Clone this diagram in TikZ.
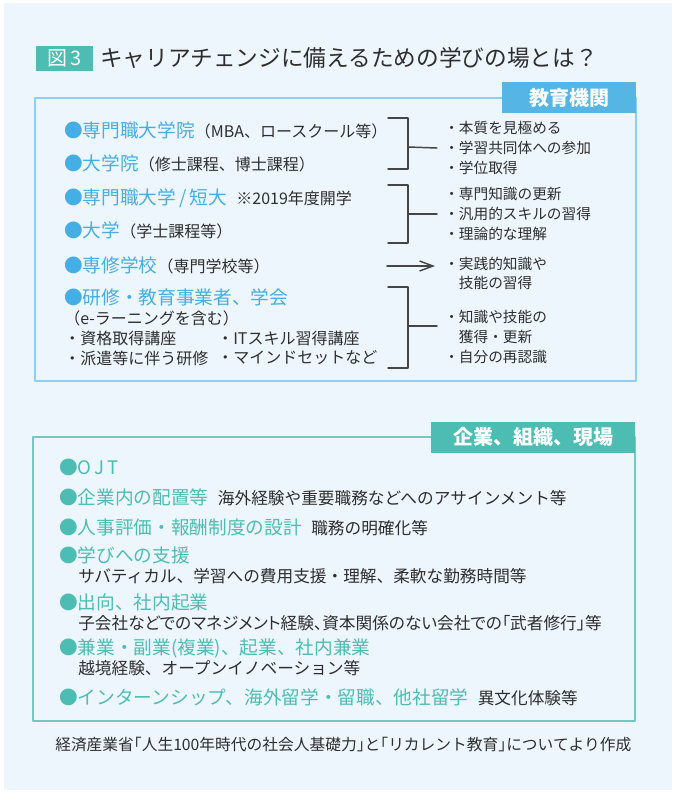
\documentclass[tikz,border=0pt]{standalone}
\usepackage{fontspec}
\usetikzlibrary{arrows.meta}
\newfontfamily\jp{Noto Sans CJK JP}
\newfontfamily\jpprop[RawFeature=+palt]{Noto Sans CJK JP}
\definecolor{panel}{HTML}{EEF6FD}
\definecolor{sky}{HTML}{45AEE4}
\definecolor{skyline}{HTML}{8CCFF0}
\definecolor{skytab}{HTML}{55B5E5}
\definecolor{mint}{HTML}{4DBDB4}
\definecolor{mintline}{HTML}{72C9C1}
\definecolor{ink}{HTML}{2E2E2E}
\definecolor{brack}{HTML}{454545}
\newcommand\edu[1]{{\color{sky}\fontsize{14}{16}\selectfont#1}}
\newcommand\biz[1]{{\color{mint}\fontsize{14}{16}\selectfont#1}}
\newcommand\aside[1]{{\fontsize{12}{14}\selectfont#1}}
\newcommand\remark[1]{{\fontsize{12.5}{15}\selectfont#1}}

\begin{document}
\begin{tikzpicture}[x=0.75pt,y=-0.75pt,line cap=round,line join=round,
    every node/.style={inner sep=0pt,text=ink},
    item/.style={anchor=west,font=\jp},
    res/.style={anchor=west,align=left,font=\jp\fontsize{11}{14.8}\selectfont},
    tab/.style={text=white,font=\jp\bfseries\fontsize{15}{17}\selectfont,
      minimum height=23.25pt},
    brk/.style={draw=brack,line width=1.1pt}]
  \useasboundingbox (0,0) rectangle (677,793);
  \fill[white] (0,0) rectangle (677,793);
  \fill[panel] (4,3) rectangle (672,790);

  % title
  \node[fill=mint,text=white,font=\jp\fontsize{15}{17}\selectfont,
    minimum width=42.75pt,minimum height=18.75pt] (fig) at (64.5,58.5) {図\,3};
  \node[item,font=\jp\fontsize{17}{20}\selectfont] (title) at (100,58)
    {キャリアチェンジに備えるための学びの場とは？};

  % schools
  \draw[skyline,line width=1.5pt] (35,97.5) rectangle (636,381);
  \node[tab,fill=skytab,minimum width=100.5pt] (school) at (569,97.5) {教育機関};

  \node[item] (grad) at (64,130) {\edu{●専門職大学院}\aside{（MBA、ロースクール等）}};
  \node[item] (master) at (64,163) {\edu{●大学院}\aside{（修士課程、博士課程）}};
  \node[item] (prof) at (64,198) {\edu{●専門職大学\,/\,短大}\hspace{7pt}\aside{※2019年度開学}};
  \node[item] (univ) at (64,230) {\edu{●大学}\aside{（学士課程等）}};
  \node[item] (voc) at (64,265) {\edu{●専修学校}\aside{（専門学校等）}};
  \node[item] (train) at (64,297) {\edu{●研修・教育事業者、学会}};
  \node[item] (elearn) at (64,318) {\aside{（e-ラーニングを含む）}};
  \node[item] (qual) at (64,338) {\aside{・資格取得講座}};
  \node[item] (itsk) at (217,338) {\aside{・ITスキル習得講座}};
  \node[item] (dispatch) at (64,358) {\aside{・派遣等に伴う研修}};
  \node[item] (mind) at (217,358) {\aside{・マインドセットなど}};

  \node[res] (gain1) at (444,148) {・本質を見極める\\・学習共同体への参加\\・学位取得};
  \node[res] (gain2) at (444,214) {・専門知識の更新\\・汎用的スキルの習得\\・理論的な理解};
  \node[res] (gain3) at (444,273.5) {・実践的知識や\\　技能の習得};
  \node[res] (gain4) at (444,337) {・知識や技能の\\　獲得・更新\\・自分の再認識};

  \draw[brk] (388,118) -- (408,118) -- (408,169) -- (388,169);
  \draw[brk] (408,147) -- ([xshift=-5.25pt]gain1.west);
  \draw[brk] (388,185) -- (408,185) -- (408,243) -- (388,243);
  \draw[brk] (408,214) -- ([xshift=-5.25pt]gain2.west);
  \coordinate (arrfrom) at (387,266);
  \coordinate (arrto) at (435,266);
  \draw[brk,-{Straight Barb[length=10pt,width=7.5pt]}] (arrfrom) -- (arrto);
  \draw[brk] (388,287) -- (408,287) -- (408,368) -- (388,368);
  \draw[brk] (408,326) -- (437,326);

  % companies
  \draw[mintline,line width=1.5pt] (33,437) rectangle (635,721);
  \node[tab,fill=mint,minimum width=153pt] (firm) at (533,437) {企業、組織、現場};

  \node[item] (ojt) at (59,467) {\biz{●O\hspace{2pt}J\hspace{2pt}T}};
  \node[item] (place) at (59,497) {\biz{●企業内の配置等}\hspace{7pt}\remark{海外経験や重要職務などへのアサインメント等}};
  \node[item] (eval) at (59,527) {\biz{●人事評価・報酬制度の設計}\hspace{7pt}\remark{職務の明確化等}};
  \node[item] (aid) at (59,555) {\biz{●学びへの支援}};
  \node[item] (aidx) at (78,576) {\remark{サバティカル、学習への費用支援・理解、柔軟な勤務時間等}};
  \node[item] (loan) at (59,602) {\biz{●出向、社内起業}};
  \node[item,font=\jpprop] (loanx) at (78,623) {\remark{子会社などでのマネジメント経験、資本関係のない会社での「武者修行」等}};
  \node[item] (side) at (59,648) {\biz{●兼業・副業(複業)、起業、社内兼業}};
  \node[item] (sidex) at (78,668) {\remark{越境経験、オープンイノベーション等}};
  \node[item] (intern) at (59,697) {\biz{●インターンシップ、海外留学・留職、他社留学}\hspace{7pt}\remark{異文化体験等}};

  \node[item,font=\jp\fontsize{11.8}{14}\selectfont] (source) at (55,745)
    {経済産業省｢人生100年時代の社会人基礎力｣と｢リカレント教育｣についてより作成};
\end{tikzpicture}
\end{document}
